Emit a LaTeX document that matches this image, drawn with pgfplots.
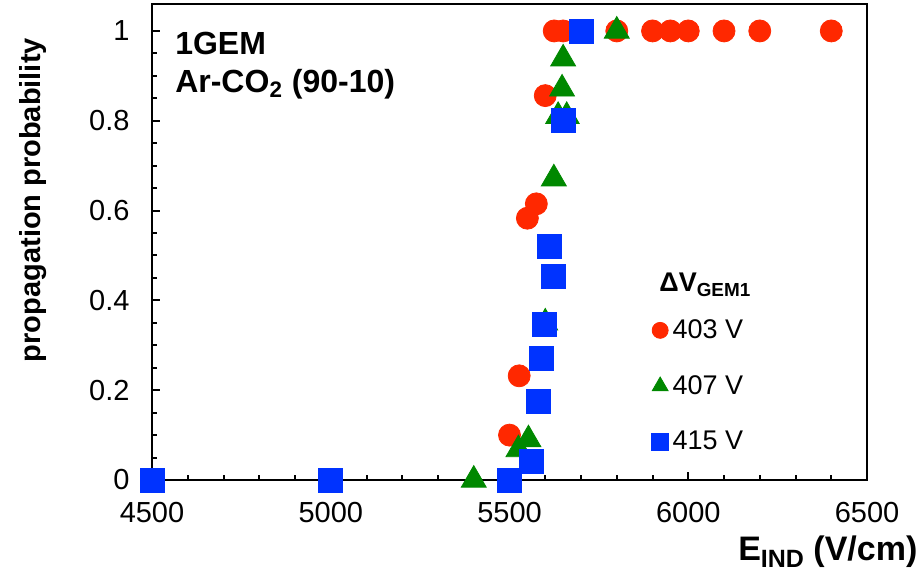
\documentclass[border=0pt]{standalone}
\usepackage{fontspec}
\setmainfont{Liberation Sans}
\usepackage{pgfplots}
\pgfplotsset{compat=1.18}
\definecolor{pred}{RGB}{255,40,0}
\definecolor{pgreen}{RGB}{0,136,0}
\definecolor{pblue}{RGB}{0,51,255}

\begin{document}
\begin{tikzpicture}
\begin{axis}[
  scale only axis, width=357.5pt, height=238pt,
  xmin=4500, xmax=6500, ymin=0, ymax=1.06,
  xtick={4500,5000,5500,6000,6500}, ytick={0,0.2,0.4,0.6,0.8,1},
  minor x tick num=4, minor y tick num=3,
  xtick pos=bottom, ytick pos=left, tick align=inside,
  major tick length=4pt, minor tick length=2.5pt,
  every tick/.style={black, line width=1pt},
  axis line style={line width=1.3pt},
  scaled x ticks=false,
  /pgf/number format/1000 sep={},
  /pgf/number format/assume math mode=true,
  tick label style={font=\fontsize{14.5}{16}\selectfont},
  xticklabel style={yshift=-7.5pt},
  yticklabel style={xshift=-7.7pt},
  ylabel={\bfseries propagation probability},
  ylabel style={font=\fontsize{14.5}{16}\selectfont, at={(axis description cs:-0.166,0.588)}, anchor=center},
  clip=false,
  legend cell align=left,
  legend style={draw=none, fill=none, font=\fontsize{13.5}{15}\selectfont,
    row sep=13pt, at={(axis description cs:0.69,0.355)}, anchor=north west},
  legend image code/.code={\draw[mark repeat=2, mark phase=2] plot coordinates {(0pt,0pt)(4pt,0pt)(6pt,0pt)};},
]
\addplot[only marks, mark=*, mark size=5.5pt, color=pred, forget plot] coordinates {
  (5500,0.10)(5527,0.232)(5550,0.583)(5575,0.615)(5600,0.856)
  (5625,1)(5650,1)(5800,1)(5900,1)(5950,1)(6000,1)(6100,1)(6200,1)(6400,1)};
\addplot[only marks, mark=triangle*, mark size=7.2pt, color=pgreen, forget plot] coordinates {
  (5400,0)(5525,0.068)(5553,0.09)(5600,0.35)(5624,0.671)(5636,0.81)(5660,0.81)
  (5647,0.871)(5650,0.938)(5800,1)};
\addplot[only marks, mark=square*, mark size=6pt, color=pblue, forget plot] coordinates {
  (4500,0)(5000,0)(5500,0)(5560,0.042)(5580,0.174)(5590,0.271)(5598,0.347)
  (5611,0.521)(5624,0.453)(5651,0.80)(5700,1)};
\addlegendimage{only marks, mark=*, mark size=4pt, color=pred}
\addlegendentry{403 V}
\addlegendimage{only marks, mark=triangle*, mark size=4.6pt, color=pgreen}
\addlegendentry{407 V}
\addlegendimage{only marks, mark=square*, mark size=4.2pt, color=pblue}
\addlegendentry{415 V}
\node[anchor=west, inner sep=0pt, font=\fontsize{16}{18}\bfseries] at (axis description cs:0.032,0.918) {1GEM};
\node[anchor=west, inner sep=0pt, font=\fontsize{16}{18}\bfseries] at (axis description cs:0.032,0.831) {Ar-CO\textsubscript{2} (90-10)};
\node[anchor=base west, inner sep=0pt, font=\fontsize{13.5}{15}\bfseries] at (axis description cs:0.709,0.395) {ΔV\textsubscript{GEM1}};
\node[anchor=base east, inner sep=0pt, font=\fontsize{17}{19}\bfseries] at (axis description cs:1.071,-0.169)
  {E\raisebox{-3.5pt}{\fontsize{12.5}{14}\selectfont IND} (V/cm)};
\coordinate (bl) at (axis description cs:-0.2126,-0.1933);
\coordinate (tr) at (axis description cs:1.0769,1.0084);
\end{axis}
\pgfresetboundingbox
\useasboundingbox (bl) rectangle (tr);
\end{tikzpicture}
\end{document}
